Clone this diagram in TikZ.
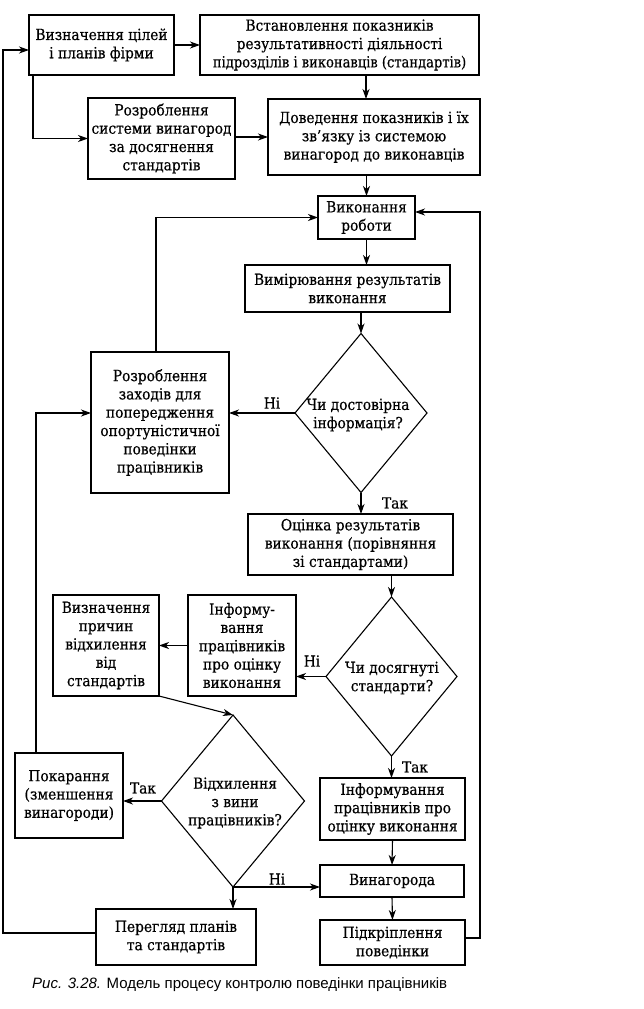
\documentclass[tikz,border=0pt]{standalone}
\usepackage{fontspec}
\usepackage{graphicx}
\setmainfont{DejaVu Serif Condensed}[FakeBold=0.5]
\newfontfamily\capfont{Liberation Sans}
\usetikzlibrary{arrows.meta,shapes.geometric}
\begin{document}
\begin{tikzpicture}[x=1pt,y=-1pt,
  box/.style={draw, line width=1.1pt, align=center, inner sep=0pt, outer sep=0pt, font=\fontsize{15.3}{18.3}\selectfont},
  dia/.style={draw, diamond, line width=1.1pt, inner sep=0pt, outer sep=0pt},
  txt/.style={align=center, inner sep=0pt, font=\fontsize{15.3}{18.3}\selectfont},
  lab/.style={inner sep=0pt, font=\fontsize{15.3}{16}\selectfont},
  arr/.style={-{Stealth[length=10pt,width=7pt,inset=3pt]}, line width=1.1pt}]
\useasboundingbox (0,0) rectangle (644,1009);
\node[box, minimum width=145pt, minimum height=60pt] (A) at (101.5,45) {Визначення цілей\\і планів фірми};
\node[box, minimum width=279pt, minimum height=60pt] (B) at (339.5,45) {Встановлення показників\\результативності діяльності\\\scalebox{0.95}[1]{підрозділів і виконавців (стандартів)}};
\node[box, minimum width=147pt, minimum height=81pt] (C) at (161.5,138.5) {Розроблення\\системи винагород\\за досягнення\\стандартів};
\node[box, minimum width=212pt, minimum height=76pt] (D) at (374,137) {Доведення показників і їх\\зв’язку із системою\\винагород до виконавців};
\node[box, minimum width=97pt, minimum height=43pt] (E) at (366.5,217.5) {Виконання\\роботи};
\node[box, minimum width=205pt, minimum height=47pt] (G) at (347.5,288.5) {Вимірювання результатів\\виконання};
\node[dia, minimum width=132pt, minimum height=159pt] (H) at (361,413) {};
\node[txt] (Ht) at (358,415) {Чи достовірна\\інформація?};
\node[box, minimum width=138pt, minimum height=141pt] (F) at (160,422.5) {Розроблення\\заходів для\\попередження\\опортуністичної\\поведінки\\працівників};
\node[box, minimum width=205pt, minimum height=61pt] (I) at (350.5,544.5) {Оцінка результатів\\виконання (порівняння\\зі стандартами)};
\node[dia, minimum width=131pt, minimum height=159pt] (J) at (391.5,676.5) {};
\node[txt] (Jt) at (392,678) {Чи досягнуті\\стандарти?};
\node[box, minimum width=108pt, minimum height=101pt] (K) at (242,645.5) {Інформу-\\вання\\працівників\\про оцінку\\виконання};
\node[box, minimum width=106pt, minimum height=101pt] (L) at (106,645.5) {Визначення\\причин\\відхилення\\від\\стандартів};
\node[dia, minimum width=143pt, minimum height=172pt] (M) at (233,801) {};
\node[txt] (Mt) at (235,803) {Відхилення\\з вини\\працівників?};
\node[box, minimum width=108pt, minimum height=85pt] (N) at (69,795.5) {Покарання\\(зменшення\\винагороди)};
\node[box, minimum width=160pt, minimum height=56pt] (O) at (176,937) {Перегляд планів\\та стандартів};
\node[box, minimum width=145pt, minimum height=62pt] (P) at (392.5,809) {Інформування\\працівників про\\оцінку виконання};
\node[box, minimum width=144pt, minimum height=32pt] (Q) at (392,881) {Винагорода};
\node[box, minimum width=145pt, minimum height=45pt] (R) at (392.5,942.5) {Підкріплення\\поведінки};
\node[anchor=base west, inner sep=0pt, font=\capfont\fontsize{15}{17}\selectfont] (cap) at (32,988) {\textit{Рис. 3.28.} Модель процесу контролю поведінки працівників};
% labels
\node[lab] (l1) at (272,403) {Ні};
\node[lab] (l2) at (395,503) {Так};
\node[lab] (l3) at (312,661) {Ні};
\node[lab] (l4) at (415,767) {Так};
\node[lab] (l5) at (143,788) {Так};
\node[lab] (l6) at (277,879) {Ні};
% helper coordinates
\coordinate (lp) at (3,0);
\coordinate (rp) at (480,0);
\coordinate (a1) at ([yshift=-5pt]A.west);
\coordinate (a2) at ([xshift=4pt]A.south west);
\coordinate (b1) at ([xshift=26.5pt]B.south);
\coordinate (f1) at ([xshift=-4pt]F.north);
\coordinate (n1) at ([xshift=-33pt]N.north);
\coordinate (r1) at ([yshift=4.5pt]R.east);
\coordinate (e1) at ([yshift=5.5pt]E.east);
\coordinate (o1) at ([yshift=4pt]O.west);
% connectors
\draw[arr] (A) -- (B);
\draw[arr] (b1) -- (b1 |- D.north);
\draw[arr] (a2) |- (C.west);
\draw[arr] (C.east |- D.west) -- (D.west);
\draw[arr] (E.north |- D.south) -- (E.north);
\draw[arr] (E.south) -- (E.south |- G.north);
\draw[arr] (H.north |- G.south) -- (H.north);
\draw[arr] (H.west) -- (H.west -| F.east);
\draw[arr] (f1) |- (E.west);
\draw[arr] (H.south) -- (H.south |- I.north);
\draw[arr] (J.north |- I.south) -- (J.north);
\draw[arr] (J.west) -- (J.west -| K.east);
\draw[arr] (K.west) -- (K.west -| L.east);
\draw[arr] (L.south east) -- (M.north);
\draw[arr] (M.west) -- (M.west -| N.east);
\draw[arr] (n1) |- (F.west |- H.west);
\draw[arr] (M.south) -- (M.south |- O.north);
\draw[arr] (M.south) -- (M.south -| Q.west);
\draw[arr] (J.south) -- (J.south |- P.north);
\draw[arr] (P.south) -- (Q.north);
\draw[arr] (Q.south) -- (R.north);
\draw[arr] (r1) -- (r1 -| rp) |- (e1);
\draw[arr] (o1) -- (o1 -| lp) |- (a1);
\end{tikzpicture}
\end{document}
